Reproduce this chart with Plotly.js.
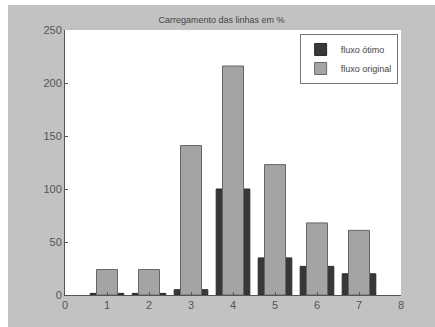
<!DOCTYPE html>
<html>
<head>
<meta charset="utf-8">
<script src="https://cdn.plot.ly/plotly-3.0.1.min.js"></script>
<style>
  html, body { margin: 0; padding: 0; background: #ffffff; width: 435px; height: 327px; overflow: hidden; }
  #chart { position: absolute; left: 8px; top: 5px; width: 427px; height: 322px; }
</style>
</head>
<body>
<div id="chart"></div>
<script>
// Line loading per branch, in percent
const linhas = [1, 2, 3, 4, 5, 6, 7];
const fluxoOtimo = [1.5, 1.5, 5, 100, 35, 27, 20];
const fluxoOriginal = [24, 24, 141, 216, 123, 68, 61];
const xTicks = [0, 1, 2, 3, 4, 5, 6, 7, 8];
const yTicks = [0, 50, 100, 150, 200, 250];

const traces = [
  {
    type: 'bar', name: 'fluxo ótimo', x: linhas, y: fluxoOtimo, width: 0.8,
    marker: { color: '#383838', line: { color: '#2a2a2a', width: 1 } }
  },
  {
    type: 'bar', name: 'fluxo original', x: linhas, y: fluxoOriginal, width: 0.5,
    marker: { color: '#a4a4a4', line: { color: '#666666', width: 1 } }
  }
];

const axisCommon = {
  showgrid: false, zeroline: false, showline: true,
  linecolor: '#555555', linewidth: 1,
  ticks: 'inside', ticklen: 3, tickcolor: '#555555',
  tickfont: { family: 'Liberation Sans, Arial, sans-serif', size: 11, color: '#555555' }
};

const layout = {
  width: 427, height: 322,
  paper_bgcolor: '#c2c2c2', plot_bgcolor: '#ffffff',
  margin: { l: 57, r: 34, t: 25, b: 32 },
  barmode: 'overlay',
  title: {
    text: 'Carregamento das linhas em %',
    font: { family: 'Liberation Sans, Arial, sans-serif', size: 9, color: '#444444' },
    x: 0.5, xanchor: 'center', y: 0.955, yanchor: 'middle'
  },
  xaxis: Object.assign({}, axisCommon, {
    range: [0, 8], tickvals: xTicks, ticktext: xTicks.map(String)
  }),
  yaxis: Object.assign({}, axisCommon, {
    range: [0, 250], tickvals: yTicks, ticktext: yTicks.map(String)
  }),
  legend: {
    x: 0.99, xanchor: 'right', y: 0.985, yanchor: 'top',
    bgcolor: '#ffffff', bordercolor: '#777777', borderwidth: 1,
    font: { family: 'Liberation Sans, Arial, sans-serif', size: 9, color: '#444444' },
    tracegroupgap: 0, itemwidth: 30
  },
  showlegend: true
};

Plotly.newPlot('chart', traces, layout, { displayModeBar: false, staticPlot: true });
</script>
</body>
</html>
